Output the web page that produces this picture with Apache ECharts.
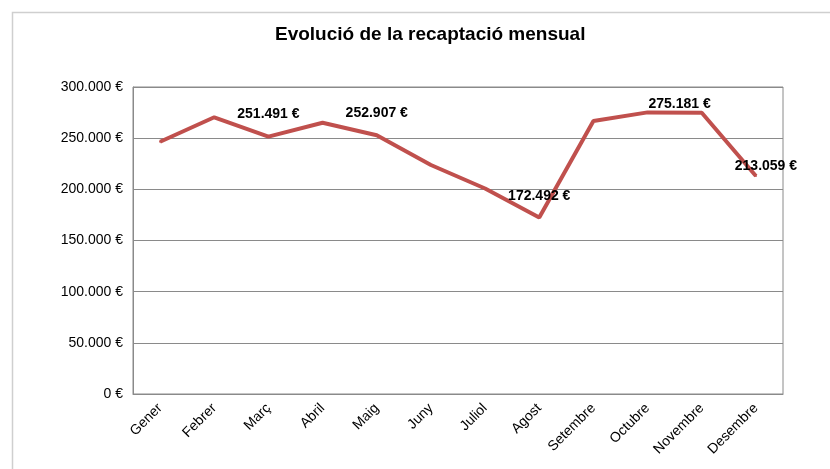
<!DOCTYPE html>
<html>
<head>
<meta charset="utf-8">
<script src="https://cdn.jsdelivr.net/npm/echarts@6/dist/echarts.min.js"></script>
<style>
  html, body { margin: 0; padding: 0; background: #fff; }
  #main { width: 830px; height: 469px; }
</style>
</head>
<body>
<div id="main"></div>
<script>
// dades llegides del gràfic
var titleText = 'Evolució de la recaptació mensual';
var months = ['Gener', 'Febrer', 'Març', 'Abril', 'Maig', 'Juny', 'Juliol', 'Agost', 'Setembre', 'Octubre', 'Novembre', 'Desembre'];
var revenue = [246500, 270400, 251491, 265100, 252907, 223800, 200800, 172492, 266800, 275181, 274900, 213059];
var labelled = ['Març', 'Maig', 'Agost', 'Octubre', 'Desembre'];
var yTicks = [0, 50000, 100000, 150000, 200000, 250000, 300000];

// on cau cada etiqueta respecte del punt (com a l'original d'Excel)
var labelOffset = {
  'Març': [0, -10],
  'Maig': [0, -9],
  'Agost': [0, -8],
  'Octubre': [32, 5],
  'Desembre': [10, 3]
};

function euro(v) {
  var s = String(Math.round(v)).replace(/\B(?=(\d{3})+(?!\d))/g, '.');
  return s + ' €';
}

var chart = echarts.init(document.getElementById('main'), null, { renderer: 'canvas' });

var seriesData = revenue.map(function (v, i) {
  var m = months[i];
  if (labelled.indexOf(m) < 0) return v;
  return {
    value: v,
    label: {
      show: true,
      position: 'top',
      offset: labelOffset[m],
      formatter: function (p) { return euro(p.value); }
    }
  };
});

var option = {
  animation: false,
  backgroundColor: '#fff',
  textStyle: { fontFamily: 'Liberation Sans, Arial, sans-serif' },
  title: {
    text: titleText,
    left: 275,
    top: 25,
    padding: 0,
    textStyle: { fontSize: 19, fontWeight: 'bold', color: '#000', fontFamily: 'Liberation Sans, Arial, sans-serif' }
  },
  graphic: [{
    type: 'rect',
    shape: { x: 12.5, y: 12.5, width: 900, height: 600 },
    style: { fill: 'none', stroke: '#cfcfcf', lineWidth: 1.5 },
    silent: true
  }],
  grid: {
    left: 133, right: 47, top: 87, bottom: 75,
    show: true,
    borderColor: '#8a8a8a',
    borderWidth: 1
  },
  xAxis: {
    type: 'category',
    data: months,
    boundaryGap: true,
    axisLine: { lineStyle: { color: '#8a8a8a', width: 1 } },
    axisTick: { show: false },
    axisLabel: {
      rotate: 45,
      margin: 12,
      interval: 0,
      color: '#000',
      fontSize: 14,
      fontFamily: 'Liberation Sans, Arial, sans-serif'
    }
  },
  yAxis: {
    type: 'value',
    min: yTicks[0],
    max: yTicks[yTicks.length - 1],
    interval: yTicks[1] - yTicks[0],
    axisLine: { show: true, lineStyle: { color: '#8a8a8a', width: 1 } },
    axisTick: { show: false },
    splitLine: { lineStyle: { color: '#8a8a8a', width: 1 } },
    axisLabel: {
      margin: 10,
      color: '#000',
      fontSize: 14,
      fontFamily: 'Liberation Sans, Arial, sans-serif',
      formatter: function (v) { return euro(v); }
    }
  },
  series: [{
    type: 'line',
    data: seriesData,
    symbol: 'circle',
    symbolSize: 2,
    showSymbol: true,
    lineStyle: { color: '#C0504D', width: 4 },
    itemStyle: { color: '#C0504D' },
    label: {
      show: false,
      color: '#000',
      fontSize: 14,
      fontWeight: 'bold',
      fontFamily: 'Liberation Sans, Arial, sans-serif'
    }
  }]
};

chart.setOption(option);
</script>
</body>
</html>
